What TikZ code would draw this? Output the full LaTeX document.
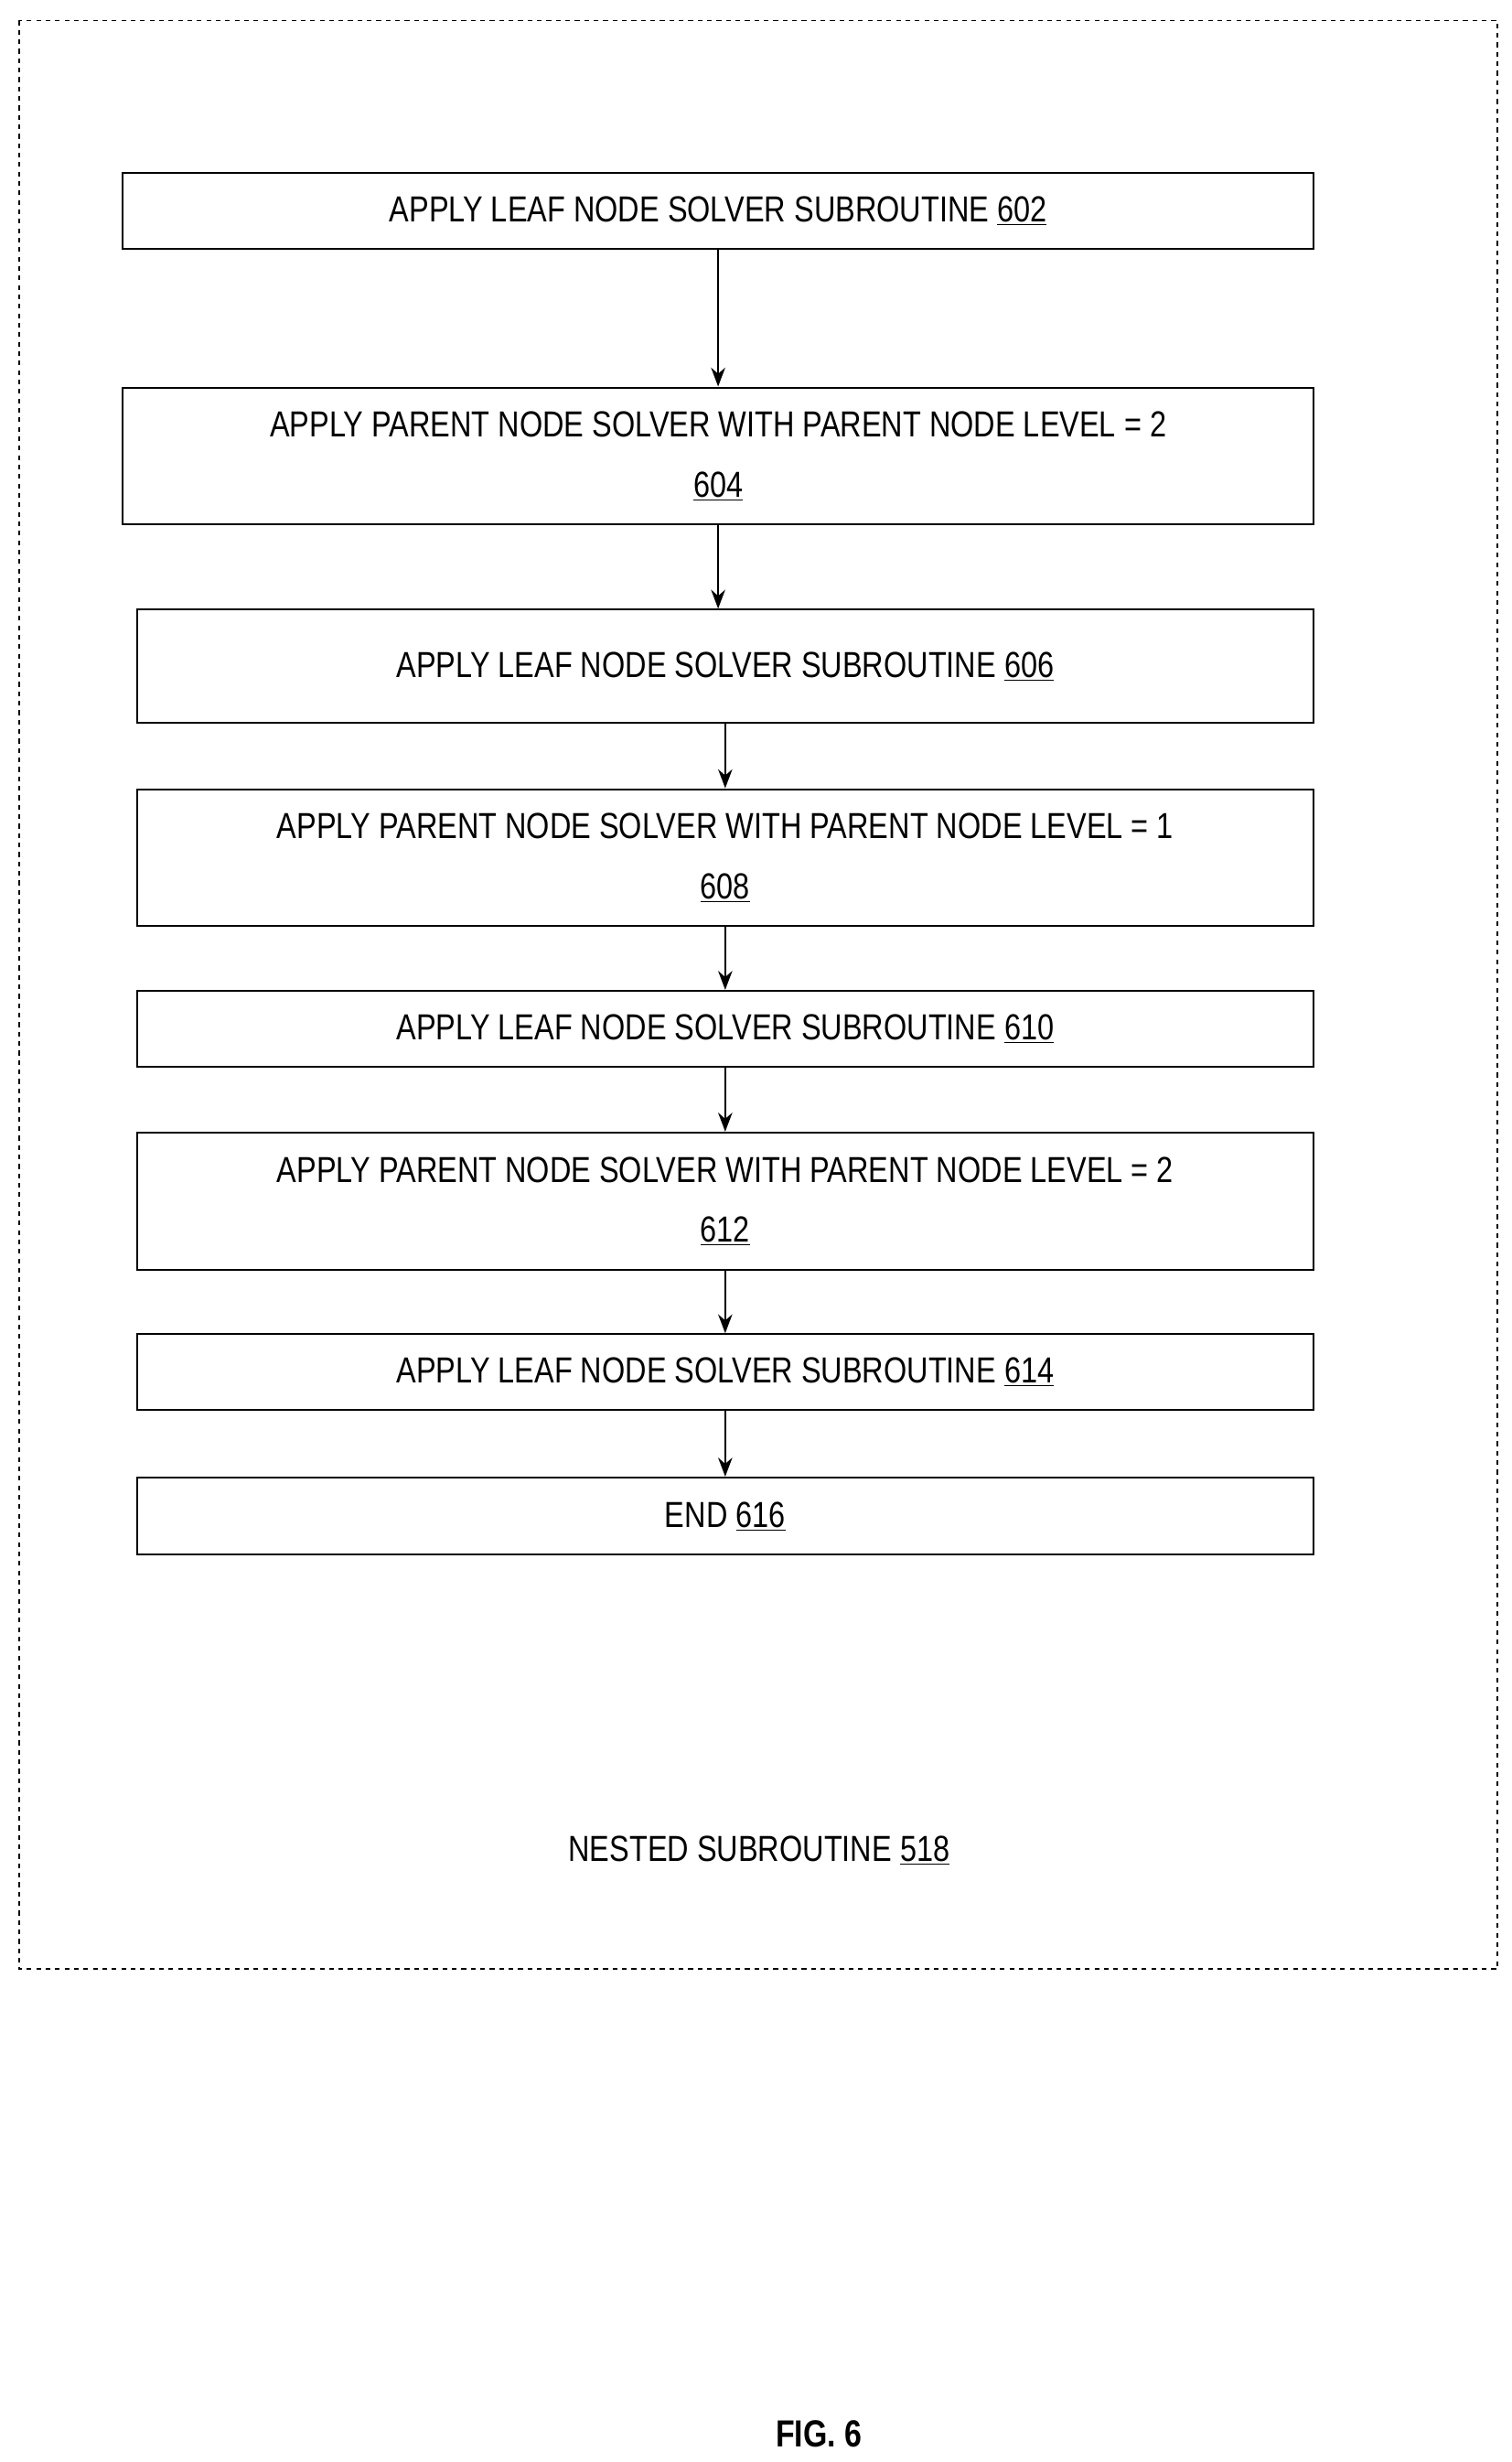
\documentclass[tikz,border=0pt]{standalone}
\usepackage{fontspec}
\setmainfont{Liberation Sans}[FakeStretch=0.82]
\usetikzlibrary{arrows.meta}
\tikzset{
  step/.style={draw, line width=1.2pt, minimum width=#1, align=center, inner sep=0pt, font=\fontsize{23}{38}\selectfont},
  flow/.style={-{Stealth[length=12pt,width=9pt]}, line width=1.2pt},
}
\begin{document}
\begin{tikzpicture}[x=1pt,y=1pt,yscale=-1,xscale=1]
\useasboundingbox (0,0) rectangle (960,1563);

%Outer dashed frame
\draw [dashed, line width=1pt] (12,13) rectangle (951,1250);

% Steps
\node [step=756pt, minimum height=48pt] (s602) at (456,134) {APPLY LEAF NODE SOLVER SUBROUTINE \underline{602}};
\node [step=756pt, minimum height=87pt] (s604) at (456,289.5) {APPLY PARENT NODE SOLVER WITH PARENT NODE LEVEL = 2\\\underline{604}};
\node [step=747pt, minimum height=72pt] (s606) at (460.5,423) {APPLY LEAF NODE SOLVER SUBROUTINE \underline{606}};
\node [step=747pt, minimum height=87pt] (s608) at (460.5,544.5) {APPLY PARENT NODE SOLVER WITH PARENT NODE LEVEL = 1\\\underline{608}};
\node [step=747pt, minimum height=48pt] (s610) at (460.5,653) {APPLY LEAF NODE SOLVER SUBROUTINE \underline{610}};
\node [step=747pt, minimum height=87pt] (s612) at (460.5,762.5) {APPLY PARENT NODE SOLVER WITH PARENT NODE LEVEL = 2\\\underline{612}};
\node [step=747pt, minimum height=48pt] (s614) at (460.5,871) {APPLY LEAF NODE SOLVER SUBROUTINE \underline{614}};
\node [step=747pt, minimum height=49pt] (s616) at (460.5,962.5) {END \underline{616}};

% Connectors
\draw [flow] (s602.south) -- (s604.north);
\draw [flow] (s604.south) -- (s606.north -| s604.south);
\draw [flow] (s606.south) -- (s608.north);
\draw [flow] (s608.south) -- (s610.north);
\draw [flow] (s610.south) -- (s612.north);
\draw [flow] (s612.south) -- (s614.north);
\draw [flow] (s614.south) -- (s616.north);

% Text Node
\node [font=\fontsize{23}{28}\selectfont] (name) at (482,1175) {NESTED SUBROUTINE \underline{518}};
% Text Node
\node [font=\fontsize{24}{28}\selectfont\bfseries] (fig) at (520,1545) {FIG. 6};
\end{tikzpicture}
\end{document}
